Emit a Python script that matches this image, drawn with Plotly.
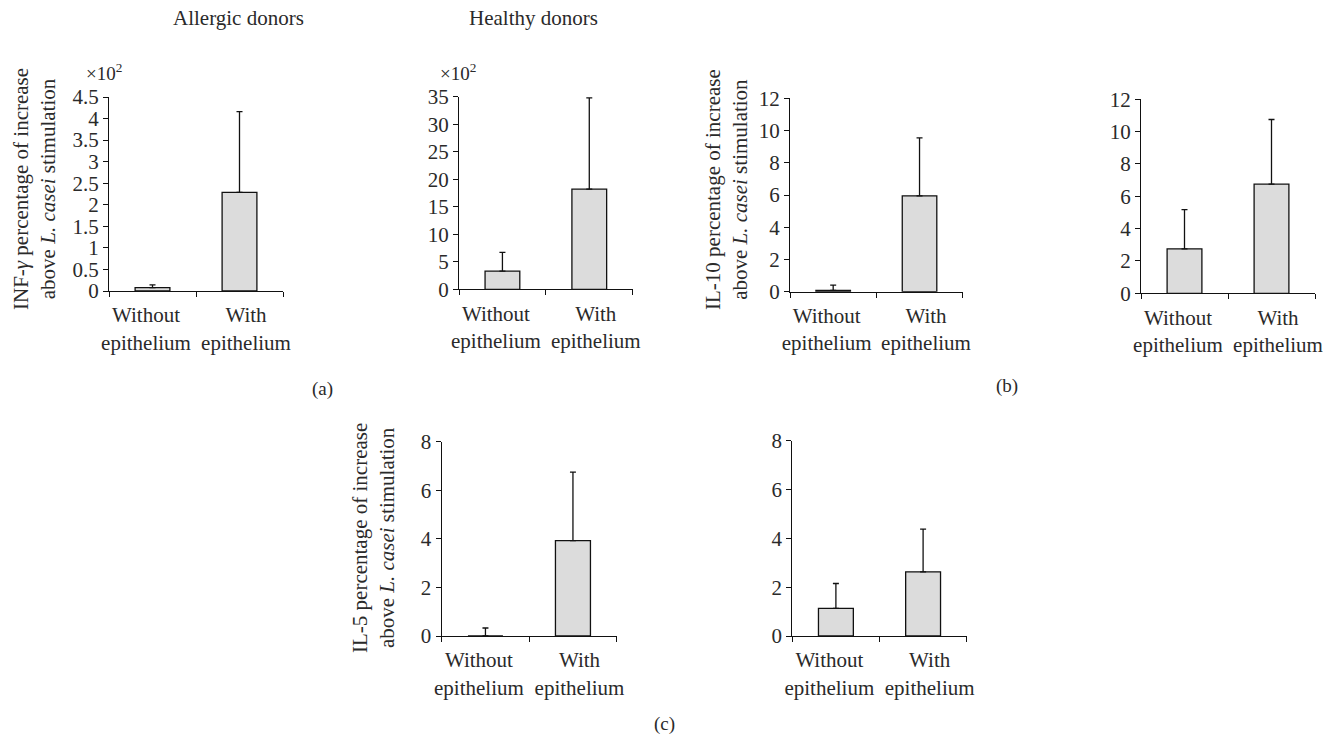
import plotly.graph_objects as go

categories = ["Without<br>epithelium", "With<br>epithelium"]

# (a) INF-gamma (x10^2)
a_allergic_mean = [0.08, 2.29]
a_allergic_err = [0.06, 1.87]
a_healthy_mean = [3.3, 18.2]
a_healthy_err = [3.4, 16.6]
# (b) IL-10
b_allergic_mean = [0.08, 5.95]
b_allergic_err = [0.33, 3.6]
b_healthy_mean = [2.75, 6.75]
b_healthy_err = [2.43, 4.0]
# (c) IL-5
c_allergic_mean = [0.0, 3.93]
c_allergic_err = [0.33, 2.82]
c_healthy_mean = [1.13, 2.63]
c_healthy_err = [1.02, 1.75]

y_tops = [4.5, 35, 12, 12, 8, 8]
y_dticks = [0.5, 5, 2, 2, 2, 2]

W, H = 1340, 736
FONT = "Liberation Serif"
TXT = "#2a2a2a"
FS = 21

panels = [
    (a_allergic_mean, a_allergic_err, (109, 283), (97, 291)),
    (a_healthy_mean, a_healthy_err, (459, 632.7), (96.7, 289.3)),
    (b_allergic_mean, b_allergic_err, (790, 962.7), (98.3, 291.7)),
    (b_healthy_mean, b_healthy_err, (1141, 1315), (99.3, 293.3)),
    (c_allergic_mean, c_allergic_err, (441.7, 616.7), (441.7, 636)),
    (c_healthy_mean, c_healthy_err, (792.3, 966.7), (440.7, 636)),
]

xpos = list(range(len(categories)))
label_pos = [xpos[0] - 0.075, xpos[1] + 0.075]

fig = go.Figure()
layout = {}
for i, (mean, err, (x0, x1), (yt, yb)) in enumerate(panels):
    n = "" if i == 0 else str(i + 1)
    fig.add_trace(go.Bar(
        x=xpos, y=mean, width=0.4,
        xaxis="x" + n, yaxis="y" + n,
        marker=dict(color="#dcdcdc", line=dict(color="#111111", width=1.3)),
        error_y=dict(type="data", array=err, arrayminus=[0] * len(err),
                     symmetric=False, color="#111111", thickness=1.3, width=3),
        showlegend=False,
    ))
    layout["xaxis" + n] = dict(
        domain=[x0 / W, x1 / W], anchor="y" + n, automargin=False,
        range=[-0.5, 1.5], tickmode="array", tickvals=label_pos, ticktext=categories,
        ticks="outside", ticklen=5, tickcolor="rgba(0,0,0,0)", tickangle=0,
        minor=dict(tickmode="array", tickvals=[-0.5, 0.5, 1.5], ticks="outside",
                   ticklen=5, tickcolor="#111111", showgrid=False),
        showline=True, linecolor="#111111", linewidth=1.3,
        showgrid=False, zeroline=False,
        tickfont=dict(family=FONT, size=FS, color=TXT),
    )
    layout["yaxis" + n] = dict(
        domain=[1 - yb / H, 1 - yt / H], anchor="x" + n, automargin=False,
        range=[0, y_tops[i]], dtick=y_dticks[i], tick0=0,
        ticks="outside", ticklen=5, tickcolor="#111111",
        showline=True, linecolor="#111111", linewidth=1.3,
        showgrid=False, zeroline=False,
        tickfont=dict(family=FONT, size=FS, color=TXT),
    )

def ann(text, x, y, size=FS, angle=0):
    return dict(text=text, x=x / W, y=1 - y / H, xref="paper", yref="paper",
                showarrow=False, xanchor="center", yanchor="middle",
                textangle=angle, font=dict(family=FONT, size=size, color=TXT))

annotations = [
    ann("Allergic donors", 238, 18),
    ann("Healthy donors", 533, 18),
    ann("×10<sup>2</sup>", 104, 72, size=19),
    ann("×10<sup>2</sup>", 458, 72, size=19),
    ann("INF-<i>γ</i> percentage of increase<br>above <i>L. casei</i> stimulation", 34, 189, angle=-90),
    ann("IL-10 percentage of increase<br>above <i>L. casei</i> stimulation", 726, 190, angle=-90),
    ann("IL-5 percentage of increase<br>above <i>L. casei</i> stimulation", 373, 538, angle=-90),
    ann("(a)", 322, 389, size=19),
    ann("(b)", 1007, 386, size=19),
    ann("(c)", 664, 724, size=19),
]

fig.update_layout(
    width=W, height=H, margin=dict(l=0, r=0, t=0, b=0, autoexpand=False),
    paper_bgcolor="white", plot_bgcolor="white",
    annotations=annotations, **layout,
)

fig.write_html("out.html", config={"displayModeBar": False},
               post_script="document.body.style.margin='0';document.body.style.padding='0';")
